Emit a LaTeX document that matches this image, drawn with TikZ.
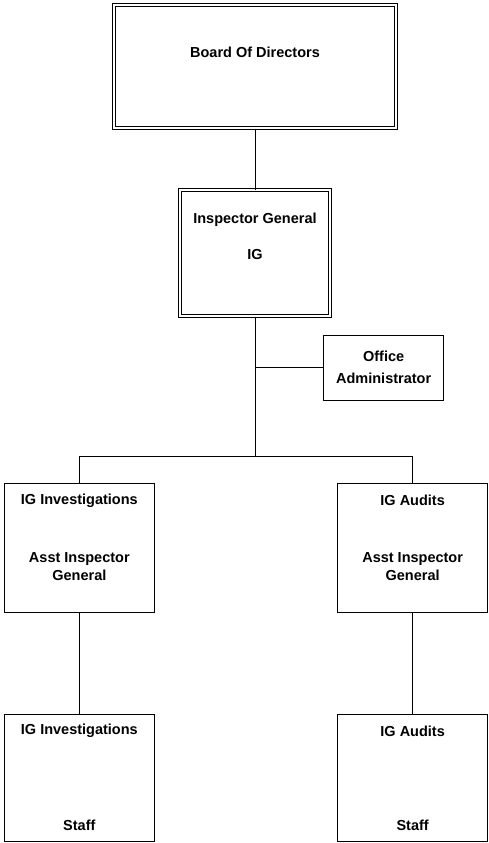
\documentclass[tikz,border=0pt]{standalone}
\usepackage{fontspec}
\setmainfont{Liberation Sans}
\usetikzlibrary{positioning}

\begin{document}
\begin{tikzpicture}[
    font=\bfseries\fontsize{14.5}{18}\selectfont,
    box/.style={
        draw=black,
        fill=white,
        rectangle,
        line width=1.3pt,
        inner sep=0pt,
        minimum width=150pt,
        minimum height=129pt
    },
    headbox/.style={
        box,
        line width=1.1pt,
        double,
        double distance=1.6pt
    },
    lbl/.style={
        align=center,
        inner sep=0pt
    },
    link/.style={
        draw=black,
        line width=1pt
    }
]
\useasboundingbox (0,0) rectangle (488pt,-843pt);

% 1. Top of the chart
\node[headbox, minimum width=282pt, minimum height=123pt] (board) at (255pt,-66.5pt) {};
\node[lbl] (boardTitle) at ([yshift=-48pt]board.north) {Board Of Directors};

\node[headbox, minimum width=150pt, minimum height=126pt, below=61pt of board] (ig) {};
\node[lbl] (igTitle) at ([yshift=-30pt]ig.north) {Inspector General};
\node[lbl] (igShort) at ([yshift=-65pt]ig.north) {IG};

\draw[link] (board) -- (ig);

% 2. Office administrator on the trunk
\coordinate[below=51pt of ig.south] (tap);
\node[box, minimum width=120pt, minimum height=65pt, right=68pt of tap, align=center] (office) {Office\\[4pt]Administrator};

\coordinate[below=140pt of ig.south] (split);

\draw[link] (ig.south) -- (split);
\draw[link] (tap) -- (office.west);

% 3. Assistant inspectors
\node[box, below left=26pt and 100pt of split] (invest) {};
\node[lbl] (investTitle) at ([yshift=-18pt]invest.north) {IG Investigations};
\node[lbl] (investRole) at ([yshift=-84pt]invest.north) {Asst Inspector\\General};

\node[box, below right=26pt and 82pt of split] (audits) {};
\node[lbl] (auditsTitle) at ([yshift=-18pt]audits.north) {IG Audits};
\node[lbl] (auditsRole) at ([yshift=-84pt]audits.north) {Asst Inspector\\General};

\draw[link] (invest.north) |- (split) -| (audits.north);

% 4. Staff
\node[box, minimum height=127pt, below=101pt of invest] (investStaff) {};
\node[lbl] (investStaffTitle) at ([yshift=-17pt]investStaff.north) {IG Investigations};
\node[lbl] (investStaffRole) at ([yshift=-111pt]investStaff.north) {Staff};

\node[box, minimum height=127pt, below=101pt of audits] (auditStaff) {};
\node[lbl] (auditStaffTitle) at ([yshift=-17pt]auditStaff.north) {IG Audits};
\node[lbl] (auditStaffRole) at ([yshift=-111pt]auditStaff.north) {Staff};

\draw[link] (invest) -- (investStaff);
\draw[link] (audits) -- (auditStaff);

\end{tikzpicture}
\end{document}
